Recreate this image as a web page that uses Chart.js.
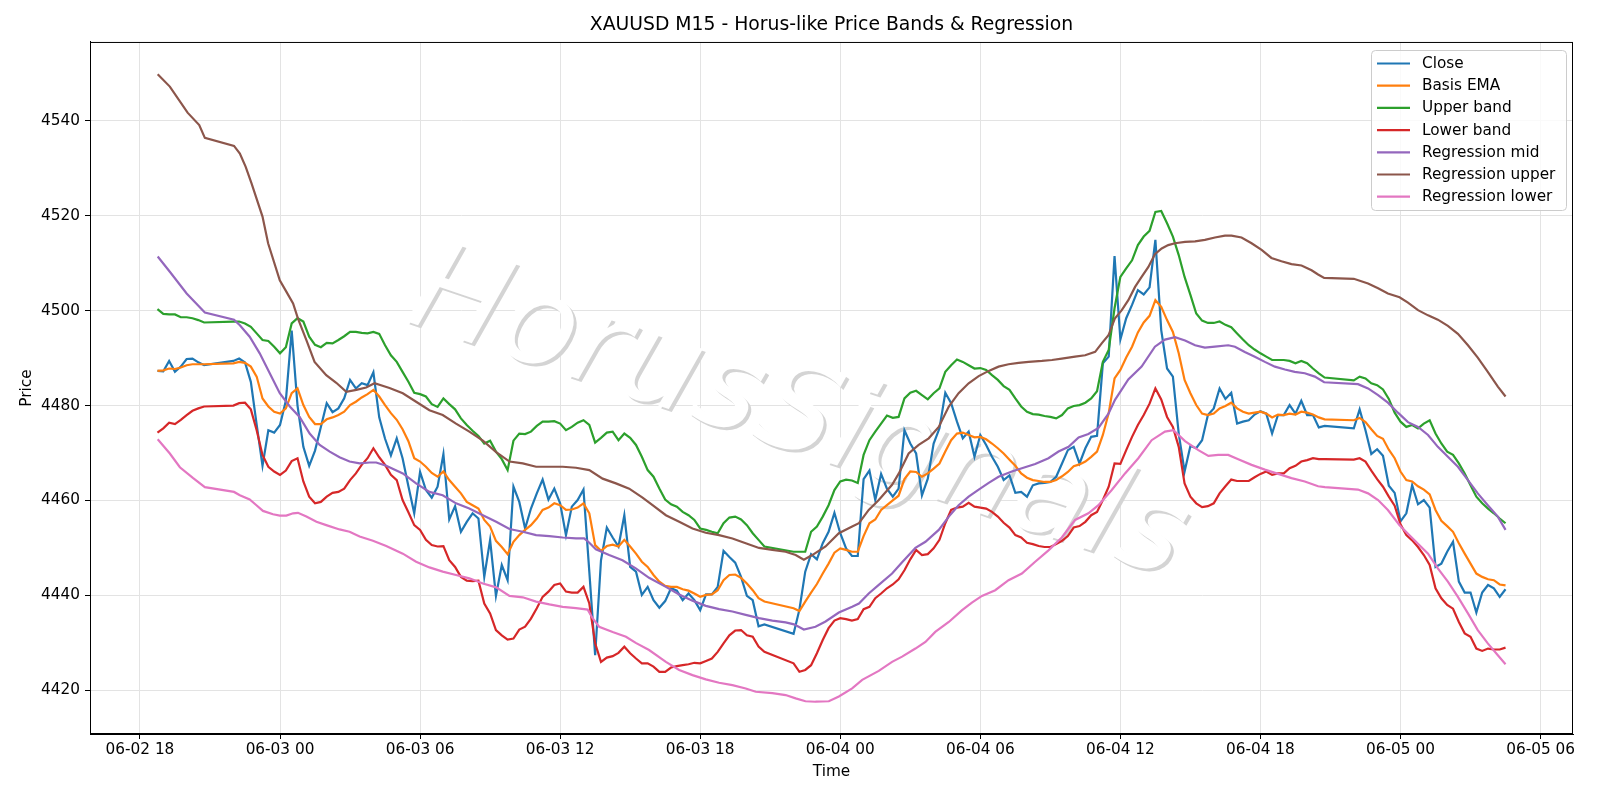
<!DOCTYPE html>
<html>
<head>
<meta charset="utf-8">
<script src="https://cdn.jsdelivr.net/npm/chart.js@4.4.0/dist/chart.umd.min.js"></script>
<style>
  html, body { margin: 0; padding: 0; background: #fff; }
  canvas { display: block; }
</style>
</head>
<body>
<canvas id="chart" width="1600" height="800"></canvas>
<script>
// x values are hours after 06-02 18:00
const tickHours  = [0, 6, 12, 18, 24, 30, 36, 42, 48, 54, 60];
const tickLabels = ['06-02 18', '06-03 00', '06-03 06', '06-03 12', '06-03 18', '06-04 00',
                    '06-04 06', '06-04 12', '06-04 18', '06-05 00', '06-05 06'];
const priceTicks = [4420, 4440, 4460, 4480, 4500, 4520, 4540];

// M15 bars from 06-02 18:45 to 06-05 04:30, none during the 21:00 daily break
const firstBar = 0.75;
const lastBar  = 58.5;
const barHours = [];
for (let h = firstBar; h <= lastBar; h += 0.25) {
    if (Math.floor((18 + h) % 24) !== 21) barHours.push(h);
}

const closePrices = [
    4487.3, 4487.2, 4489.4, 4487.1, 4488.2, 4489.8, 4489.9, 4489.1, 4488.5,
    4489.4, 4489.9, 4489.1, 4485.0, 4476.0, 4467.3, 4474.8, 4474.3, 4475.9, 4481.0, 4495.8, 4480.0,
    4471.3, 4467.3, 4470.5, 4475.5, 4480.5, 4478.6, 4479.4, 4481.5, 4485.4, 4483.6, 4484.7, 4484.3,
    4487.0, 4477.5, 4473.0, 4469.5, 4473.1, 4468.9, 4463.0, 4457.3, 4466.0, 4462.2, 4460.6, 4462.9,
    4469.8, 4456.0, 4458.8, 4453.4, 4455.5, 4457.3, 4456.2, 4443.9, 4451.7, 4439.9, 4446.4, 4443.2,
    4462.9, 4459.7, 4454.1, 4458.3, 4461.5, 4464.4, 4460.2, 4462.5, 4459.4, 4452.7, 4458.7, 4460.1,
    4462.3, 4445.0, 4427.4, 4447.4, 4454.3, 4452.2, 4450.3, 4456.9, 4446.0, 4445.0, 4440.1, 4441.8,
    4439.0, 4437.4, 4438.8, 4441.5, 4441.0, 4439.0, 4440.4, 4439.0, 4436.9, 4440.2, 4440.2, 4441.8,
    4449.4, 4448.1, 4446.9, 4443.9, 4439.9, 4439.0, 4433.5, 4433.9,
    4431.9, 4437.0, 4445.0, 4448.7, 4447.6, 4451.0, 4453.4, 4457.4, 4453.1, 4449.9, 4448.3, 4448.3,
    4464.5, 4466.3, 4460.1, 4465.6, 4462.5, 4460.8, 4462.5, 4474.8, 4472.0, 4469.9, 4461.1, 4464.6,
    4472.0, 4475.2, 4482.7, 4480.5, 4476.6, 4473.1, 4474.5, 4469.2, 4473.8, 4471.7, 4469.2, 4467.1,
    4464.3, 4465.3, 4461.6, 4461.8, 4460.8, 4463.2, 4463.6, 4463.7, 4463.9, 4465.0, 4467.8, 4470.6,
    4471.3, 4467.8, 4471.0, 4473.4, 4473.6, 4488.9, 4490.3, 4511.5, 4493.9, 4498.4, 4501.2, 4504.3,
    4503.4, 4504.9, 4514.9, 4495.9, 4487.8, 4486.1, 4474.1, 4466.1, 4471.5, 4471.0, 4472.7, 4478.0,
    4479.4, 4483.6, 4481.4, 4482.7, 4476.2, 4476.6, 4476.9, 4478.1, 4478.8, 4478.3, 4474.1, 4478.0,
    4478.0, 4480.1, 4478.3, 4481.0, 4478.0, 4478.0, 4475.4, 4475.7,
    4475.2, 4479.2, 4474.8, 4469.8, 4470.8, 4469.4, 4463.1, 4461.6, 4455.6, 4457.3, 4463.2, 4459.2,
    4460.1, 4458.5, 4446.0, 4446.7, 4449.2, 4451.3, 4442.9, 4440.6, 4440.6, 4436.4, 4440.6, 4442.2,
    4441.5, 4439.7, 4441.3
];

const basisEma = [
    4487.3, 4487.4, 4487.8, 4487.7, 4488.0, 4488.5, 4488.7, 4488.7, 4488.7,
    4488.9, 4489.2, 4489.0, 4488.2, 4486.1, 4481.5, 4479.8, 4478.7, 4478.3, 4479.4, 4482.6, 4483.6,
    4480.1, 4477.6, 4476.1, 4476.1, 4477.1, 4477.5, 4478.0, 4478.7, 4480.1, 4480.8, 4481.7, 4482.4,
    4483.3, 4481.9, 4480.1, 4478.4, 4477.0, 4475.0, 4472.5, 4468.9, 4468.2, 4467.1, 4465.8, 4465.0,
    4466.1, 4464.3, 4462.9, 4461.5, 4459.7, 4459.0, 4458.3, 4455.9, 4454.5, 4451.5, 4450.2, 4448.7,
    4451.3, 4452.7, 4453.8, 4454.8, 4456.2, 4458.0, 4458.5, 4459.4, 4459.0, 4458.0, 4458.1, 4458.5,
    4459.4, 4457.3, 4450.6, 4449.4, 4450.4, 4450.7, 4450.3, 4451.7, 4450.3, 4448.8, 4447.1, 4446.0,
    4444.3, 4442.9, 4442.0, 4441.8, 4441.8, 4441.3, 4441.0, 4440.4, 4439.7, 4440.1, 4440.2, 4441.1,
    4443.2, 4444.3, 4444.4, 4443.7, 4442.5, 4441.1, 4439.4, 4438.7,
    4437.3, 4436.7, 4438.7, 4440.6, 4442.4, 4444.6, 4446.7, 4449.0, 4449.9, 4449.6, 4449.2, 4449.2,
    4452.5, 4455.2, 4456.0, 4458.0, 4459.0, 4460.0, 4461.0, 4464.5, 4466.1, 4466.0, 4465.0, 4465.7,
    4466.7, 4467.8, 4470.3, 4472.7, 4474.1, 4474.3, 4473.8, 4473.3, 4473.4, 4472.9, 4472.0, 4471.0,
    4469.9, 4468.6, 4467.3, 4465.7, 4464.8, 4464.3, 4464.1, 4463.9, 4463.9, 4464.3, 4465.1, 4466.0,
    4467.2, 4467.6, 4468.2, 4469.2, 4470.3, 4473.8, 4478.4, 4485.7, 4487.5, 4490.1, 4492.4, 4495.4,
    4497.5, 4498.9, 4502.2, 4500.8, 4498.0, 4495.5, 4491.0, 4485.4, 4482.6, 4480.1, 4478.3, 4478.0,
    4478.3, 4479.4, 4479.9, 4480.6, 4479.4, 4478.7, 4478.3, 4478.5, 4478.7, 4478.3, 4477.5, 4478.1,
    4478.0, 4478.3, 4478.1, 4478.7, 4478.5, 4478.1, 4477.5, 4477.1,
    4476.9, 4477.4, 4476.5, 4475.0, 4473.6, 4473.0, 4470.7, 4468.9, 4466.1, 4464.3, 4464.0, 4463.0,
    4462.3, 4461.3, 4458.0, 4455.7, 4454.6, 4453.4, 4451.0, 4448.8, 4446.7, 4444.6, 4443.9, 4443.4,
    4443.2, 4442.3, 4442.1
];

const upperBand = [
    4500.3, 4499.3, 4499.2, 4499.2, 4498.6, 4498.6, 4498.4, 4498.0, 4497.5,
    4497.7, 4497.7, 4497.3, 4496.6, 4495.2, 4493.8, 4493.6, 4492.4, 4491.0, 4492.3, 4497.3, 4498.4,
    4497.7, 4494.5, 4492.8, 4492.3, 4493.2, 4493.1, 4493.8, 4494.6, 4495.5, 4495.5, 4495.3, 4495.2,
    4495.5, 4495.1, 4492.7, 4490.6, 4489.2, 4487.1, 4485.0, 4482.7, 4482.4, 4481.9, 4480.3, 4479.7,
    4481.5, 4480.3, 4479.2, 4477.3, 4475.9, 4474.7, 4473.6, 4472.0, 4472.6, 4470.3, 4468.7, 4466.4,
    4472.6, 4474.1, 4474.0, 4474.5, 4475.7, 4476.6, 4476.6, 4476.7, 4476.2, 4474.8, 4475.5, 4476.4,
    4476.9, 4475.9, 4472.2, 4473.2, 4474.3, 4474.5, 4472.7, 4474.1, 4473.2, 4471.7, 4469.2, 4466.4,
    4465.0, 4462.5, 4460.2, 4459.2, 4458.7, 4457.6, 4456.9, 4455.9, 4454.1, 4453.8, 4453.4, 4453.1,
    4455.2, 4456.4, 4456.6, 4456.0, 4454.8, 4453.1, 4451.7, 4450.3,
    4449.2, 4449.2, 4449.2, 4453.4, 4454.5, 4456.6, 4459.0, 4462.2, 4464.0, 4464.4, 4464.2, 4463.7,
    4469.6, 4472.7, 4474.5, 4476.2, 4477.9, 4477.4, 4477.6, 4481.5, 4482.7, 4483.1, 4482.2, 4481.3,
    4482.6, 4483.6, 4487.1, 4488.5, 4489.7, 4489.2, 4488.5, 4487.8, 4487.9, 4487.5, 4486.4, 4485.4,
    4484.1, 4483.3, 4481.5, 4479.8, 4478.7, 4478.2, 4478.1, 4477.8, 4477.6, 4477.3, 4478.0, 4479.4,
    4479.9, 4480.1, 4480.6, 4481.5, 4483.0, 4489.2, 4491.7, 4500.5, 4507.1, 4508.9, 4510.6, 4513.8,
    4515.6, 4516.8, 4520.8, 4521.0, 4518.4, 4515.6, 4511.7, 4507.1, 4503.3, 4499.4, 4497.9, 4497.4,
    4497.4, 4497.7, 4497.0, 4496.5, 4495.2, 4493.9, 4492.7, 4491.8, 4491.0, 4490.3, 4489.6, 4489.6,
    4489.6, 4489.4, 4488.9, 4489.4, 4488.9, 4487.8, 4486.8, 4485.9,
    4485.3, 4486.1, 4485.7, 4484.7, 4484.3, 4483.4, 4481.4, 4478.5, 4476.6, 4475.5, 4475.9, 4475.2,
    4476.2, 4476.9, 4474.1, 4472.0, 4470.3, 4469.6, 4467.8, 4465.7, 4463.2, 4460.8, 4459.4, 4458.3,
    4457.3, 4456.2, 4455.2
];

const lowerBand = [
    4474.3, 4475.2, 4476.4, 4476.1, 4477.0, 4478.0, 4478.9, 4479.4, 4479.8,
    4480.0, 4480.5, 4480.6, 4479.2, 4474.8, 4469.6, 4467.1, 4466.1, 4465.4, 4466.3, 4468.3, 4468.9,
    4464.0, 4460.8, 4459.4, 4459.7, 4460.8, 4461.6, 4461.8, 4462.5, 4464.3, 4465.7, 4467.5, 4468.9,
    4471.0, 4469.1, 4467.5, 4465.4, 4464.3, 4460.1, 4457.5, 4454.8, 4453.8, 4451.7, 4450.6, 4450.3,
    4450.4, 4447.4, 4446.0, 4443.9, 4443.1, 4443.0, 4443.1, 4438.3, 4436.2, 4432.7, 4431.6, 4430.7,
    4430.9, 4432.8, 4433.4, 4435.1, 4437.3, 4439.7, 4440.8, 4442.2, 4442.5, 4440.8, 4440.6, 4440.6,
    4441.8, 4438.3, 4429.9, 4426.0, 4426.9, 4427.2, 4427.9, 4429.2, 4427.8, 4426.7, 4425.7, 4425.7,
    4425.0, 4423.9, 4423.9, 4424.8, 4425.1, 4425.3, 4425.5, 4425.8, 4425.7, 4426.2, 4426.7, 4428.1,
    4429.9, 4431.6, 4432.6, 4432.7, 4431.6, 4431.3, 4429.2, 4428.1,
    4425.7, 4423.9, 4424.3, 4425.3, 4427.8, 4430.6, 4433.1, 4434.7, 4435.2, 4435.0, 4434.7, 4435.0,
    4437.1, 4437.6, 4439.4, 4440.4, 4441.5, 4442.3, 4443.4, 4445.3, 4447.6, 4449.6, 4448.5, 4448.7,
    4449.9, 4451.7, 4455.2, 4458.0, 4458.5, 4458.7, 4459.5, 4458.7, 4458.5, 4458.3, 4457.6, 4456.6,
    4455.3, 4454.3, 4452.7, 4452.2, 4451.1, 4450.8, 4450.4, 4450.2, 4450.2, 4450.8, 4451.5, 4452.5,
    4454.3, 4454.6, 4455.5, 4456.9, 4457.6, 4460.1, 4462.9, 4467.8, 4467.7, 4470.6, 4473.4, 4475.9,
    4478.0, 4480.4, 4483.6, 4481.3, 4477.6, 4475.5, 4471.3, 4463.6, 4460.8, 4459.4, 4458.6, 4458.8,
    4459.4, 4461.5, 4463.0, 4464.4, 4464.1, 4464.1, 4464.1, 4464.9, 4465.6, 4466.1, 4465.4, 4465.7,
    4465.7, 4466.8, 4467.3, 4468.2, 4468.5, 4468.9, 4468.7, 4468.7,
    4468.6, 4468.9, 4468.2, 4466.3, 4464.5, 4462.9, 4460.8, 4458.9, 4455.0, 4452.7, 4451.6, 4450.2,
    4448.5, 4446.4, 4441.5, 4439.4, 4438.0, 4437.2, 4434.4, 4432.0, 4431.3, 4428.8, 4428.3, 4428.8,
    4428.6, 4428.6, 4429.0
];

// regression channel, read as [hour, price] points
const regMid = [
    [0.76, 4511.4], [1.28, 4508.2], [2.0, 4503.6], [2.78, 4499.6], [4.03, 4498.1], [4.28, 4496.9],
    [4.7, 4494.5], [5.13, 4491.0], [5.56, 4486.8], [5.99, 4482.6], [6.42, 4479.8], [6.84, 4477.6],
    [7.27, 4474.1], [7.7, 4471.7], [8.13, 4470.3], [8.55, 4469.1], [8.98, 4468.2], [9.41, 4467.8],
    [9.84, 4468.0], [10.12, 4468.0], [10.55, 4467.3], [11.26, 4465.7], [11.83, 4463.6], [12.4, 4461.8],
    [12.97, 4461.1], [13.54, 4459.4], [14.11, 4458.3], [14.69, 4456.9], [15.26, 4455.5], [15.83, 4454.0],
    [16.4, 4453.4], [16.97, 4452.7], [17.54, 4452.5], [18.11, 4452.2], [18.68, 4452.0], [19.03, 4452.0],
    [19.25, 4451.1], [19.53, 4449.7], [20.1, 4448.5], [20.67, 4447.4], [21.24, 4445.7], [21.81, 4443.7],
    [22.53, 4441.8], [23.1, 4440.2], [23.67, 4438.9], [24.24, 4437.8], [24.81, 4437.1], [25.38, 4436.6],
    [25.95, 4435.9], [26.52, 4435.2], [27.09, 4434.7], [27.66, 4434.3], [28.02, 4433.9], [28.44, 4432.8],
    [28.94, 4433.4], [29.37, 4434.5], [29.94, 4436.4], [30.51, 4437.6], [30.8, 4438.3], [31.22, 4440.4],
    [31.65, 4442.2], [32.22, 4444.6], [32.65, 4447.0], [33.22, 4450.0], [33.65, 4451.3], [34.22, 4453.8],
    [34.65, 4456.6], [35.07, 4459.0], [35.5, 4460.8], [35.93, 4462.3], [36.36, 4463.7], [36.78, 4465.0],
    [37.35, 4466.1], [37.78, 4466.8], [38.35, 4467.7], [38.92, 4468.9], [39.35, 4470.3], [39.78, 4471.3],
    [40.21, 4473.3], [40.63, 4474.0], [41.06, 4475.3], [41.49, 4478.3], [41.77, 4481.2], [42.34, 4485.5],
    [42.91, 4488.2], [43.48, 4492.4], [43.91, 4493.9], [44.34, 4494.4], [44.77, 4493.7], [45.2, 4492.7],
    [45.62, 4492.2], [46.05, 4492.4], [46.62, 4492.7], [46.91, 4492.4], [47.33, 4491.3], [47.76, 4490.3],
    [48.19, 4489.2], [48.62, 4488.2], [49.05, 4487.6], [49.47, 4487.1], [49.9, 4486.8], [50.33, 4486.1],
    [50.73, 4484.9], [52.18, 4484.5], [52.61, 4483.6], [53.04, 4482.2], [53.46, 4480.6], [53.89, 4478.5],
    [54.32, 4476.5], [54.75, 4475.5], [55.18, 4473.8], [55.6, 4471.3], [56.03, 4469.2], [56.46, 4467.1],
    [56.89, 4464.3], [57.31, 4461.5], [57.74, 4459.0], [58.17, 4456.6], [58.5, 4453.8]
];

const regUpper = [
    [0.76, 4549.8], [1.28, 4547.2], [2.04, 4541.7], [2.54, 4539.1], [2.78, 4536.4], [4.03, 4534.7],
    [4.28, 4533.1], [4.53, 4530.3], [4.78, 4526.8], [5.25, 4519.8], [5.49, 4514.2], [5.99, 4506.4],
    [6.27, 4504.0], [6.56, 4501.5], [6.77, 4498.3], [7.13, 4493.8], [7.48, 4489.2], [7.98, 4486.4],
    [8.41, 4484.8], [8.84, 4482.9], [9.27, 4483.3], [9.69, 4483.8], [10.05, 4484.7], [10.69, 4483.7],
    [11.26, 4482.6], [11.83, 4480.8], [12.4, 4479.0], [12.97, 4478.0], [13.54, 4476.2], [14.11, 4474.5],
    [14.69, 4472.6], [15.26, 4470.2], [15.83, 4468.2], [16.4, 4467.8], [16.97, 4467.1], [17.54, 4467.1],
    [18.11, 4467.1], [18.68, 4466.9], [19.25, 4466.4], [19.82, 4464.6], [20.39, 4463.6], [20.96, 4462.5],
    [21.53, 4460.6], [21.96, 4459.0], [22.53, 4456.9], [23.1, 4455.5], [23.67, 4454.1], [24.24, 4453.2],
    [24.81, 4452.7], [25.38, 4452.0], [25.95, 4451.0], [26.52, 4450.0], [27.09, 4449.6], [27.66, 4449.2],
    [28.09, 4448.5], [28.44, 4447.5], [28.8, 4448.5], [29.37, 4450.3], [29.94, 4453.1], [30.51, 4454.5],
    [30.8, 4455.2], [31.22, 4458.0], [31.65, 4460.1], [32.22, 4463.3], [32.51, 4465.7], [32.93, 4469.9],
    [33.36, 4471.7], [33.79, 4473.1], [34.22, 4475.5], [34.65, 4479.8], [35.07, 4482.6], [35.5, 4484.7],
    [35.93, 4486.2], [36.36, 4487.3], [36.78, 4488.2], [37.21, 4488.7], [37.64, 4489.0], [38.07, 4489.2],
    [38.64, 4489.4], [39.07, 4489.6], [39.49, 4489.9], [40.06, 4490.3], [40.49, 4490.6], [40.92, 4491.3],
    [41.2, 4493.1], [41.49, 4494.8], [41.77, 4498.4], [42.06, 4500.1], [42.34, 4502.2], [42.63, 4505.0],
    [42.91, 4507.1], [43.2, 4509.2], [43.48, 4511.9], [43.77, 4513.1], [44.05, 4513.8], [44.34, 4514.2],
    [44.77, 4514.5], [45.2, 4514.6], [45.62, 4514.9], [46.05, 4515.4], [46.48, 4515.8], [46.76, 4515.8],
    [47.19, 4515.4], [47.62, 4514.2], [48.05, 4512.8], [48.47, 4511.1], [48.9, 4510.4], [49.33, 4509.8],
    [49.76, 4509.5], [50.19, 4508.5], [50.47, 4507.6], [50.73, 4506.9], [52.0, 4506.7], [52.61, 4505.7],
    [53.04, 4504.7], [53.46, 4503.6], [53.96, 4502.8], [54.32, 4501.7], [54.75, 4500.1], [55.18, 4499.0],
    [55.6, 4498.1], [56.03, 4496.8], [56.46, 4495.1], [56.89, 4492.7], [57.31, 4490.1], [57.74, 4487.1],
    [58.17, 4484.0], [58.5, 4481.9]
];

const regLower = [
    [0.76, 4472.9], [1.28, 4469.9], [1.71, 4467.0], [2.28, 4464.7], [2.78, 4462.8], [4.03, 4461.8],
    [4.28, 4461.1], [4.7, 4460.2], [4.99, 4459.0], [5.27, 4457.8], [5.7, 4457.1], [5.99, 4456.8],
    [6.27, 4456.8], [6.56, 4457.3], [6.77, 4457.4], [7.13, 4456.6], [7.56, 4455.5], [7.98, 4454.8],
    [8.55, 4453.9], [8.98, 4453.4], [9.41, 4452.4], [9.98, 4451.5], [10.55, 4450.4], [11.26, 4448.8],
    [11.83, 4447.1], [12.4, 4445.9], [12.97, 4445.0], [13.54, 4444.3], [14.11, 4443.6], [14.69, 4442.5],
    [15.26, 4441.7], [15.83, 4439.9], [16.4, 4439.6], [16.97, 4438.7], [17.54, 4438.1], [18.11, 4437.6],
    [18.68, 4437.3], [19.18, 4437.0], [19.39, 4435.2], [19.67, 4433.4], [20.25, 4432.3], [20.82, 4431.3],
    [21.24, 4430.0], [21.81, 4428.5], [22.53, 4426.0], [23.1, 4424.3], [23.67, 4423.2], [24.24, 4422.3],
    [24.81, 4421.6], [25.38, 4421.1], [25.95, 4420.4], [26.38, 4419.7], [27.09, 4419.4], [27.66, 4419.0],
    [28.09, 4418.3], [28.51, 4417.7], [28.94, 4417.6], [29.51, 4417.7], [29.94, 4418.7], [30.51, 4420.4],
    [30.94, 4422.2], [31.65, 4424.1], [32.22, 4426.0], [32.65, 4427.1], [33.22, 4428.8], [33.65, 4430.2],
    [34.07, 4432.3], [34.65, 4434.4], [35.22, 4436.9], [35.64, 4438.5], [36.07, 4439.9], [36.64, 4441.1],
    [37.21, 4443.2], [37.78, 4444.6], [38.35, 4447.1], [38.92, 4449.5], [39.49, 4452.2], [40.06, 4455.9],
    [40.63, 4457.3], [41.06, 4459.0], [41.63, 4462.2], [42.2, 4465.7], [42.77, 4468.9], [43.34, 4472.7],
    [43.91, 4474.5], [44.27, 4474.8], [44.77, 4472.5], [45.34, 4470.6], [45.77, 4469.4], [46.19, 4469.6],
    [46.62, 4469.6], [47.05, 4468.7], [47.62, 4467.5], [48.19, 4466.5], [48.76, 4465.6], [49.33, 4464.7],
    [49.9, 4464.0], [50.47, 4463.0], [50.76, 4462.8], [52.18, 4462.3], [52.61, 4461.5], [53.04, 4460.1],
    [53.46, 4458.0], [53.96, 4454.8], [54.32, 4453.0], [54.75, 4450.9], [55.18, 4448.8], [55.6, 4445.7],
    [56.03, 4442.9], [56.46, 4439.7], [56.89, 4436.2], [57.31, 4432.7], [57.74, 4429.9], [58.17, 4427.4],
    [58.5, 4425.5]
];

const seriesNames  = ['Close', 'Basis EMA', 'Upper band', 'Lower band',
                      'Regression mid', 'Regression upper', 'Regression lower'];
const seriesColors = ['#1f77b4', '#ff7f0e', '#2ca02c', '#d62728', '#9467bd', '#8c564b', '#e377c2'];

const FONT = "'DejaVu Sans', sans-serif";
const SMALL = 15.3;
Chart.defaults.font.family = FONT;
Chart.defaults.color = '#000';

const onBars = vals => vals.map((v, i) => ({ x: barHours[i], y: v }));
const onPts  = pts => pts.map(p => ({ x: p[0], y: p[1] }));

const seriesData = [
    onBars(closePrices), onBars(basisEma), onBars(upperBand), onBars(lowerBand),
    onPts(regMid), onPts(regUpper), onPts(regLower)
];

// matplotlib draws later lines on top; in Chart.js lower order is on top
const datasets = seriesData.map((data, i) => ({
    label: seriesNames[i],
    data,
    borderColor: seriesColors[i],
    backgroundColor: seriesColors[i],
    borderWidth: 2.2,
    pointRadius: 0,
    tension: 0,
    fill: false,
    order: seriesData.length - i
}));

const watermark = {
    id: 'watermark',
    beforeDatasetsDraw(chart) {
        const ctx = chart.ctx;
        const a = chart.chartArea;
        ctx.save();
        ctx.beginPath();
        ctx.rect(a.left, a.top, a.right - a.left, a.bottom - a.top);
        ctx.clip();
        ctx.font = 'italic 124px ' + FONT;
        ctx.textAlign = 'center';
        ctx.textBaseline = 'middle';
        [[3, 3, '#d4d4d4'], [0, 0, '#ffffff']].forEach(([dx, dy, col]) => {
            ctx.save();
            ctx.translate(797 + dx, 418 + dy);
            ctx.rotate(18.5 * Math.PI / 180);
            ctx.fillStyle = col;
            ctx.fillText('HorusSignals', 0, 0);
            ctx.restore();
        });
        ctx.restore();
    }
};

const frame = {
    id: 'frame',
    afterDatasetsDraw(chart) {
        const { left, top, right, bottom } = chart.chartArea;
        const ctx = chart.ctx;
        ctx.save();
        ctx.strokeStyle = '#000';
        ctx.lineWidth = 1;
        ctx.strokeRect(left + 0.5, top + 0.5, right - left - 1, bottom - top - 1);
        ctx.restore();
    }
};

const legendBox = {
    id: 'legendBox',
    afterDraw(chart) {
        const ctx = chart.ctx;
        ctx.save();
        ctx.beginPath();
        ctx.roundRect(1371.5, 50.5, 195, 160, 4);
        ctx.fillStyle = 'rgba(255,255,255,0.8)';
        ctx.fill();
        ctx.strokeStyle = '#cccccc';
        ctx.lineWidth = 1;
        ctx.stroke();
        ctx.font = SMALL + 'px ' + FONT;
        ctx.textBaseline = 'middle';
        chart.data.datasets.forEach((ds, i) => {
            const cy = 63.5 + i * 22.2;
            ctx.strokeStyle = ds.borderColor;
            ctx.lineWidth = 2.2;
            ctx.beginPath();
            ctx.moveTo(1377, cy);
            ctx.lineTo(1410, cy);
            ctx.stroke();
            ctx.fillStyle = '#000';
            ctx.fillText(ds.label, 1422, cy + 0.5);
        });
        ctx.restore();
    }
};

new Chart(document.getElementById('chart'), {
    type: 'line',
    data: { datasets },
    plugins: [watermark, frame, legendBox],
    options: {
        responsive: false,
        devicePixelRatio: 1,
        animation: false,
        layout: { padding: { left: 0, right: 27, top: 0, bottom: 0 } },
        plugins: {
            legend: { display: false },
            tooltip: { enabled: false },
            title: {
                display: true,
                text: 'XAUUSD M15 - Horus-like Price Bands & Regression',
                color: '#000',
                fullSize: false,
                font: { family: FONT, size: 18.8, weight: 'normal' },
                padding: { top: 14, bottom: 5.4 }
            }
        },
        scales: {
            x: {
                type: 'linear',
                min: -2.14,
                max: 61.39,
                afterBuildTicks: s => { s.ticks = tickHours.map(v => ({ value: v })); },
                afterFit: s => { s.height = 66; },
                ticks: {
                    font: { size: SMALL },
                    color: '#000',
                    padding: 2,
                    maxRotation: 0,
                    autoSkip: false,
                    callback: v => tickLabels[tickHours.indexOf(v)]
                },
                grid: { color: '#e3e3e3', tickColor: '#000', tickLength: 5 },
                border: { color: '#000', width: 1 },
                title: { display: true, text: 'Time', font: { size: SMALL }, color: '#000', padding: { top: 0, bottom: 19 } }
            },
            y: {
                type: 'linear',
                min: 4410.8,
                max: 4556.6,
                afterBuildTicks: s => { s.ticks = priceTicks.map(v => ({ value: v })); },
                afterFit: s => { s.width = 90; },
                ticks: {
                    font: { size: SMALL },
                    color: '#000',
                    padding: 5,
                    callback: v => String(v)
                },
                grid: { color: '#e3e3e3', tickColor: '#000', tickLength: 5 },
                border: { color: '#000', width: 1 },
                title: { display: true, text: 'Price', font: { size: SMALL }, color: '#000', padding: { top: 18, bottom: 0 } }
            }
        }
    }
});
</script>
</body>
</html>
